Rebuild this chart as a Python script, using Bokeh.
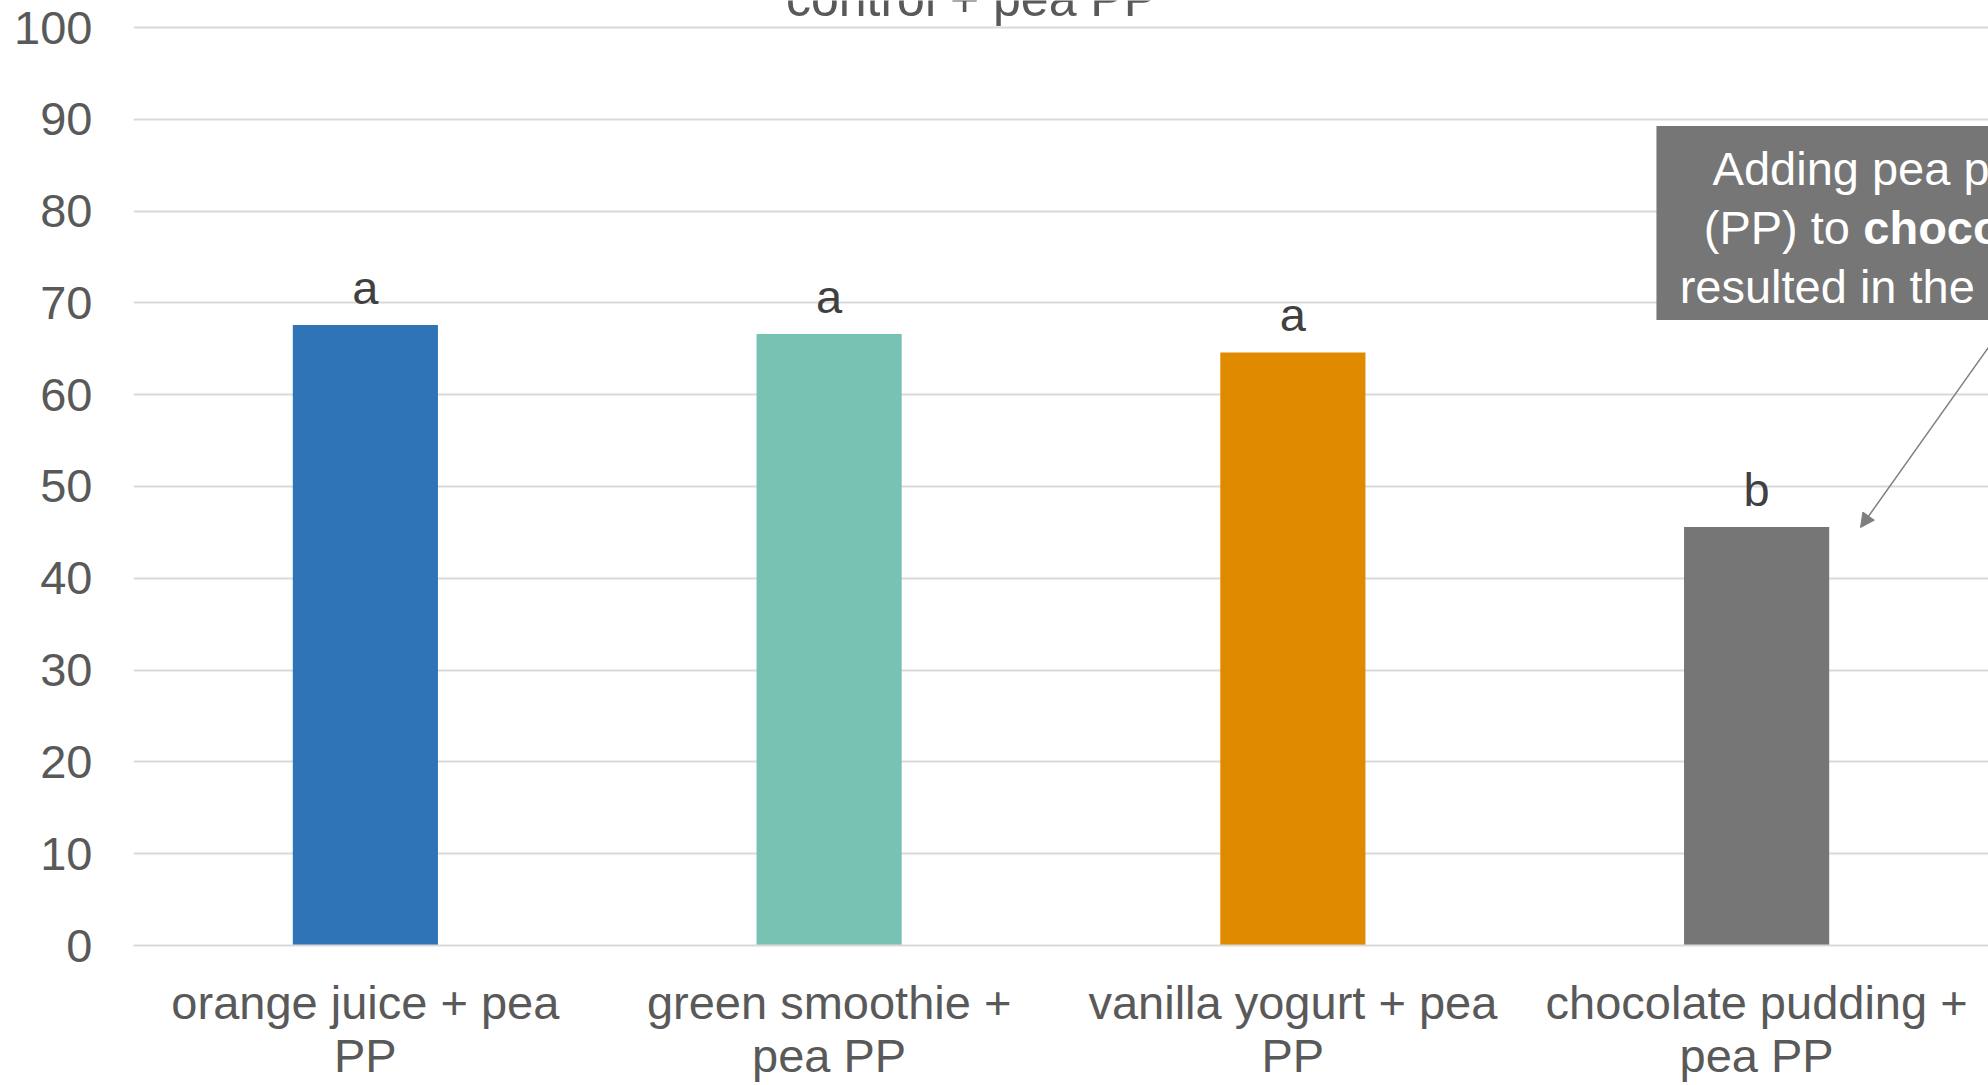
from bokeh.plotting import figure
from bokeh.models import (FactorRange, Range1d, FixedTicker, ColumnDataSource, LabelSet,
                          Label, BoxAnnotation, Arrow, NormalHead)
from bokeh.core.properties import value
from bokeh.embed import file_html
from bokeh.resources import INLINE

# ---- data ----
categories = ["orange juice + pea\nPP", "green smoothie +\npea PP",
              "vanilla yogurt + pea\nPP", "chocolate pudding +\npea PP"]
values = [67.6, 66.6, 64.6, 45.6]
letters = ["a", "a", "a", "b"]
colors = ["#2E74B6", "#78C2B3", "#E08A00", "#767676"]
y_ticks = [0, 10, 20, 30, 40, 50, 60, 70, 80, 90, 100]

FONT = "Liberation Sans"
AXIS_GREY = "#595959"

src = ColumnDataSource(dict(cat=categories, val=values, letter=letters, color=colors))

p = figure(x_range=FactorRange(factors=categories, range_padding=0, factor_padding=0),
           y_range=Range1d(0, 102.94),
           width=1988, height=1085, output_backend="svg", toolbar_location=None,
           min_border_left=133, min_border_right=0, min_border_top=0, min_border_bottom=140)
p.outline_line_color = None
p.background_fill_color = "white"
p.border_fill_color = "white"

p.vbar(x="cat", top="val", width=0.313, color="color", line_color=None, source=src)

# grid
p.xgrid.visible = False
p.ygrid.ticker = FixedTicker(ticks=y_ticks)
p.ygrid.grid_line_color = "#D9D9D9"
p.ygrid.grid_line_width = 2

# y axis
ya = p.yaxis[0]
ya.ticker = FixedTicker(ticks=y_ticks)
ya.axis_line_color = None
ya.major_tick_line_color = None
ya.minor_tick_line_color = None
ya.major_tick_out = 0
ya.major_label_standoff = 41
ya.major_label_text_font = FONT
ya.major_label_text_font_size = "47px"
ya.major_label_text_color = AXIS_GREY

# x axis
xa = p.xaxis[0]
xa.axis_line_color = "#D9D9D9"
xa.axis_line_width = 2
xa.major_tick_line_color = None
xa.minor_tick_line_color = None
xa.major_tick_out = 0
xa.major_label_standoff = 30
xa.major_label_text_font = FONT
xa.major_label_text_font_size = "47px"
xa.major_label_text_color = AXIS_GREY
xa.major_label_text_line_height = 1.0

# significance letters
p.add_layout(LabelSet(x="cat", y="val", text="letter", source=src, y_offset=21,
                      text_align="center", text_baseline="alphabetic",
                      text_font=value(FONT), text_font_size=value("47px"),
                      text_color=value("#404040")))

# cut-off title line
p.add_layout(Label(x=1.807, y=103.1, text="control + pea PP", text_align="center",
                   text_baseline="alphabetic", text_font=FONT, text_font_size="50px",
                   text_color=AXIS_GREY))

# annotation box
p.add_layout(BoxAnnotation(left=3.284, right=6, top=89.27, bottom=68.14,
                           fill_color="#767676", fill_alpha=1, line_color=None,
                           level="overlay"))
lines = [
    (3.405, 84.6, "Adding pea protein", "normal"),
    (3.386, 78.25, "(PP) to ", "normal"),
    (3.730, 78.25, "chocolate pudding", "bold"),
    (3.334, 71.8, "resulted in the lowest", "normal"),
]
for x, y, t, style in lines:
    p.add_layout(Label(x=x, y=y, text=t, text_align="left", text_baseline="alphabetic",
                       text_font=FONT, text_font_size="47px", text_font_style=style,
                       text_color="white", level="overlay"))

p.add_layout(Arrow(x_start=4.041, y_start=68.08, x_end=3.724, y_end=45.53,
                   line_color="#7F7F7F", line_width=1.5,
                   end=NormalHead(size=14, fill_color="#7F7F7F", line_color="#7F7F7F")))

open("out.html", "w").write(file_html(p, INLINE))
